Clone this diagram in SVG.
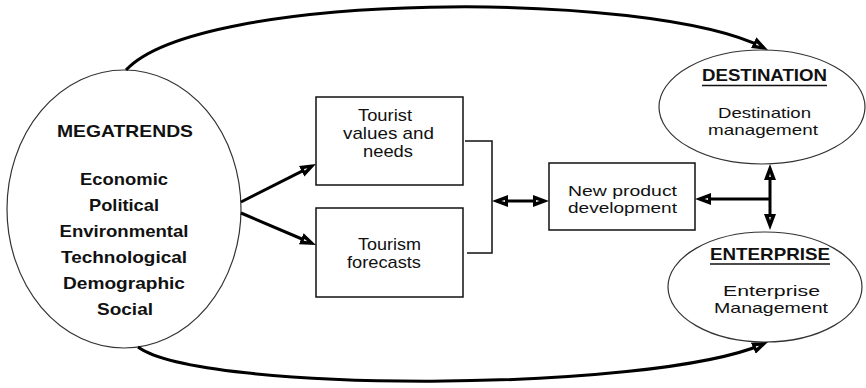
<svg xmlns="http://www.w3.org/2000/svg" width="866" height="388" viewBox="0 0 866 388">
<style>
  .bg{fill:#ffffff}
  .ell{fill:#ffffff;stroke:#333333;stroke-width:1.2}
  .box{fill:#ffffff;stroke:#111111;stroke-width:1.5}
  .con{fill:none;stroke:#000000;stroke-width:3}
  .thin{fill:none;stroke:#111111;stroke-width:1.5}
  text{font-family:"Liberation Sans",Arial,sans-serif;font-size:17px;fill:#111111;text-anchor:middle}
  .s{font-size:15px}
  .b{font-weight:bold}
  .ul{stroke:#111111;stroke-width:1.5}
</style>
<defs>
  <marker id="ah" viewBox="0 0 16 13" refX="11" refY="6.5" markerWidth="16" markerHeight="13" markerUnits="userSpaceOnUse" orient="auto-start-reverse">
    <path d="M0,0.5 L16,6.5 L0,12.5 Z" fill="#000000"/>
    <path d="M3,5.6 L6.5,6.5 L3,7.4 Z" fill="#ffffff"/>
  </marker>
</defs>
<rect class="bg" x="0" y="0" width="866" height="388"/>

<g id="megatrends">
  <ellipse class="ell" cx="124" cy="209" rx="117" ry="139"/>
  <text class="b" x="125" y="137" textLength="136" lengthAdjust="spacingAndGlyphs">MEGATRENDS</text>
  <text class="b" x="124" y="185" textLength="88" lengthAdjust="spacingAndGlyphs">Economic</text>
  <text class="b" x="124" y="211" textLength="70" lengthAdjust="spacingAndGlyphs">Political</text>
  <text class="b" x="124" y="237" textLength="129" lengthAdjust="spacingAndGlyphs">Environmental</text>
  <text class="b" x="124" y="263" textLength="126" lengthAdjust="spacingAndGlyphs">Technological</text>
  <text class="b" x="124" y="289" textLength="122" lengthAdjust="spacingAndGlyphs">Demographic</text>
  <text class="b" x="125" y="315" textLength="56" lengthAdjust="spacingAndGlyphs">Social</text>
</g>

<g id="values">
  <rect class="box" x="316" y="97" width="147" height="88"/>
  <text x="385" y="121" textLength="54" lengthAdjust="spacingAndGlyphs">Tourist</text>
  <text x="388.5" y="139" textLength="91" lengthAdjust="spacingAndGlyphs">values and</text>
  <text x="388" y="157" textLength="50" lengthAdjust="spacingAndGlyphs">needs</text>
</g>

<g id="forecasts">
  <rect class="box" x="316" y="208" width="147" height="89"/>
  <text x="389.5" y="250" textLength="63" lengthAdjust="spacingAndGlyphs">Tourism</text>
  <text x="384" y="268" textLength="74" lengthAdjust="spacingAndGlyphs">forecasts</text>
</g>

<g id="npd">
  <rect class="box" x="549" y="163" width="146" height="67"/>
  <text class="s" x="622.5" y="195.5" textLength="109" lengthAdjust="spacingAndGlyphs">New product</text>
  <text class="s" x="622.5" y="212.5" textLength="109" lengthAdjust="spacingAndGlyphs">development</text>
</g>

<g id="destination">
  <ellipse class="ell" cx="762" cy="107" rx="103" ry="57"/>
  <text class="b" x="764.5" y="81" textLength="125" lengthAdjust="spacingAndGlyphs">DESTINATION</text>
  <line class="ul" x1="702" y1="85.5" x2="827" y2="85.5"/>
  <text class="s" x="764.5" y="117.5" textLength="93" lengthAdjust="spacingAndGlyphs">Destination</text>
  <text class="s" x="763" y="134.5" textLength="110" lengthAdjust="spacingAndGlyphs">management</text>
</g>

<g id="enterprise">
  <ellipse class="ell" cx="765" cy="287" rx="97" ry="55"/>
  <text class="b" x="770" y="260" textLength="120" lengthAdjust="spacingAndGlyphs">ENTERPRISE</text>
  <line class="ul" x1="710" y1="264" x2="830" y2="264"/>
  <text class="s" x="771.5" y="295.5" textLength="97" lengthAdjust="spacingAndGlyphs">Enterprise</text>
  <text class="s" x="771" y="312.5" textLength="114" lengthAdjust="spacingAndGlyphs">Management</text>
</g>

<g id="connectors">
  <path class="con" d="M126,70 C200,-10 650,-10 763.5,47.7" marker-end="url(#ah)"/>
  <path class="con" d="M138,347 C200,393 650,393 763.4,344" marker-end="url(#ah)"/>
  <path class="con" d="M241,202 L311.5,166.3" marker-end="url(#ah)"/>
  <path class="con" d="M241,213 L311.4,243" marker-end="url(#ah)"/>
  <path class="thin" d="M465,141 L492,141 L492,253 L467,253"/>
  <path class="con" d="M497,201 L544,201" marker-start="url(#ah)" marker-end="url(#ah)"/>
  <path class="con" d="M770,199 L700,199" marker-end="url(#ah)"/>
  <path class="con" d="M770,169 L770,225" marker-start="url(#ah)" marker-end="url(#ah)"/>
</g>
</svg>
